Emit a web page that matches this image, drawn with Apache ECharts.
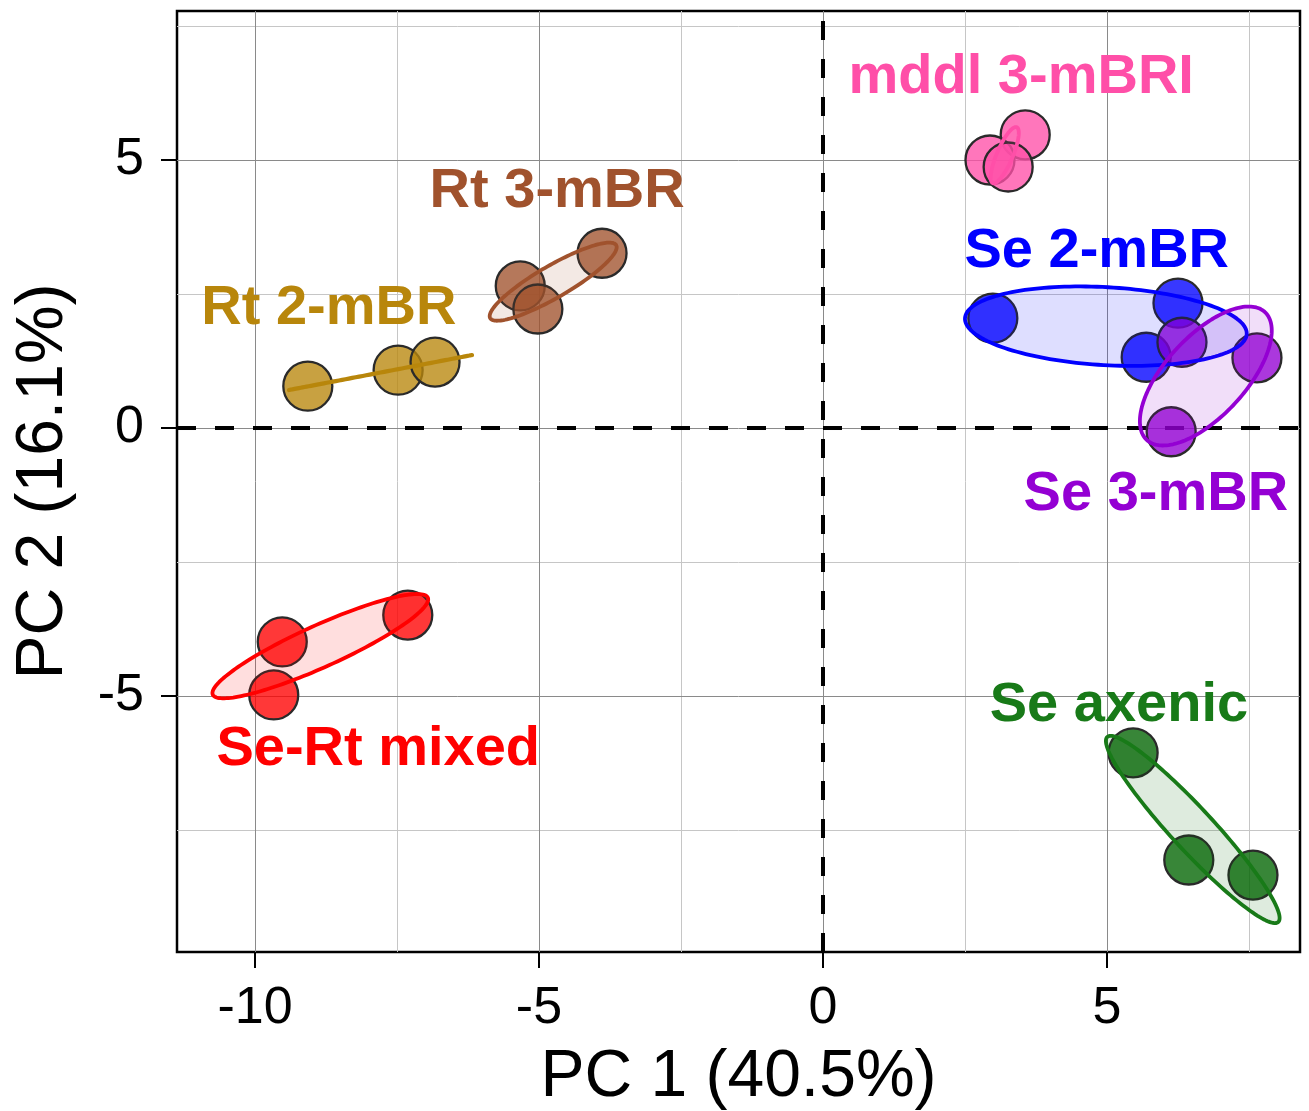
<!DOCTYPE html>
<html><head><meta charset="utf-8">
<script src="https://cdn.jsdelivr.net/npm/echarts@6/dist/echarts.min.js"></script>
<style>html,body{margin:0;padding:0;background:#fff}#c{width:1309px;height:1111px}</style>
</head><body><div id="c"></div>
<script>
// ---- data ----
const groups = ['Rt 2-mBR', 'Rt 3-mBR', 'Se-Rt mixed', 'mddl 3-mBRI', 'Se 2-mBR', 'Se 3-mBR', 'Se axenic'];
const colors = ['#B8860B', '#A0522D', '#FF0000', '#FF4FA8', '#0000FF', '#9400D3', '#187A18'];
const pointRGB = ['184,134,11', '160,82,45', '255,0,0', '255,80,168', '0,0,255', '148,0,211', '0,100,0'];

const ptsRt2 = [[-9.07, 0.78], [-7.48, 1.08], [-6.83, 1.23]];
const ptsRt3 = [[-5.33, 2.65], [-5.02, 2.22], [-3.89, 3.26]];
const ptsMixed = [[-9.52, -3.99], [-9.67, -4.98], [-7.31, -3.49]];
const ptsMddl = [[3.56, 5.47], [2.94, 5.00], [3.26, 4.87]];
const ptsSe2 = [[2.99, 2.05], [6.25, 2.33], [5.69, 1.32]];
const ptsSe3 = [[6.32, 1.60], [7.64, 1.31], [6.13, -0.07]];
const ptsAxenic = [[5.46, -6.06], [6.44, -8.06], [7.57, -8.34]];
const groupPoints = [ptsRt2, ptsRt3, ptsMixed, ptsMddl, ptsSe2, ptsSe3, ptsAxenic];

// ellipses: centre (cx, cy), half-axis vectors u and v, in data units
const ellRt2 = [-7.79, 1.035, 1.611, 0.326, 0.0, 0.0];
const ellRt3 = [-4.75, 2.73, 1.109, 0.681, 0.141, -0.259];
const ellMixed = [-8.85, -4.07, 1.893, 0.905, 0.152, -0.357];
const ellMddl = [3.20, 5.09, 0.211, 0.522, 0.129, -0.059];
const ellSe2 = [4.98, 1.90, 2.48, -0.149, -0.039, -0.726];
const ellSe3 = [6.74, 0.97, 1.039, 1.194, 0.518, -0.505];
const ellAxenic = [6.51, -7.49, 1.505, -1.726, -0.271, -0.266];
const groupEllipses = [ellRt2, ellRt3, ellMixed, ellMddl, ellSe2, ellSe3, ellAxenic];

// label anchor (centre of text) in data units
const labelPos = [[-8.70, 2.22], [-4.68, 4.42], [-7.83, -6.00], [3.49, 6.53], [4.82, 3.30], [5.86, -1.25], [5.21, -5.18]];

const X_MIN = -11.373, X_MAX = 8.398, Y_MIN = -9.776, Y_MAX = 7.78;
const xTicks = [-10, -5, 0, 5];
const yTicks = [-5, 0, 5];
const xMajor = [-10, -5, 0, 5];
const xMinor = [-7.5, -2.5, 2.5, 7.5];
const yMajor = [-5, 0, 5];
const yMinor = [-7.5, -2.5, 2.5, 7.5];
const xTitle = 'PC 1 (40.5%)';
const yTitle = 'PC 2 (16.1%)';

const FONT = '"Liberation Sans", Arial, Helvetica, sans-serif';

function vLines(vals, color, width) {
  return {
    type: 'custom', z: 1, silent: true,
    data: vals.map(v => [v, 0]),
    renderItem: (p, api) => {
      const v = api.value(0);
      const a = api.coord([v, Y_MIN]), b = api.coord([v, Y_MAX]);
      const x = Math.round(a[0]) + 0.5;
      return { type: 'line', shape: { x1: x, y1: a[1], x2: x, y2: b[1] }, style: { stroke: color, lineWidth: width } };
    }
  };
}
function hLines(vals, color, width) {
  return {
    type: 'custom', z: 1, silent: true,
    data: vals.map(v => [0, v]),
    renderItem: (p, api) => {
      const v = api.value(1);
      const a = api.coord([X_MIN, v]), b = api.coord([X_MAX, v]);
      const y = Math.round(a[1]) + 0.5;
      return { type: 'line', shape: { x1: a[0], y1: y, x2: b[0], y2: y }, style: { stroke: color, lineWidth: width } };
    }
  };
}

const series = [
  vLines(xMinor, '#c6c6c6', 1),
  hLines(yMinor, '#c6c6c6', 1),
  vLines(xMajor, '#8a8a8a', 1),
  hLines(yMajor, '#8a8a8a', 1),
  { // dashed zero lines
    type: 'custom', z: 2, silent: true,
    data: [[0, 0]],
    renderItem: (p, api) => {
      const a = api.coord([0, Y_MIN]), b = api.coord([0, Y_MAX]);
      const c = api.coord([X_MIN, 0]), d = api.coord([X_MAX, 0]);
      const ds = { stroke: '#000', lineWidth: 4, lineDash: [19, 19] };
      return { type: 'group', children: [
        { type: 'line', shape: { x1: a[0], y1: a[1], x2: b[0], y2: b[1] }, style: ds },
        { type: 'line', shape: { x1: c[0], y1: c[1], x2: d[0], y2: d[1] }, style: ds }
      ] };
    }
  }
];

groupPoints.forEach((pts, i) => {
  series.push({
    type: 'scatter', name: groups[i], z: 3, silent: true,
    symbol: 'circle', symbolSize: 49,
    data: pts,
    itemStyle: { color: 'rgba(' + pointRGB[i] + ',0.78)', borderColor: '#2a2a2a', borderWidth: 2.3, opacity: 1 }
  });
});

series.push({
  type: 'custom', z: 4, silent: true,
  data: groupEllipses.map((e, i) => e.concat([i])),
  renderItem: (p, api) => {
    const cx = api.value(0), cy = api.value(1), ux = api.value(2), uy = api.value(3), vx = api.value(4), vy = api.value(5), gi = api.value(6);
    const pts = [];
    for (let k = 0; k < 160; k++) {
      const t = k / 160 * 2 * Math.PI;
      pts.push(api.coord([cx + ux * Math.cos(t) + vx * Math.sin(t), cy + uy * Math.cos(t) + vy * Math.sin(t)]));
    }
    return { type: 'polygon', shape: { points: pts },
      style: { fill: 'rgba(' + pointRGB[gi] + ',0.13)', stroke: colors[gi], lineWidth: gi === 0 ? 4.2 : 3.8, lineJoin: 'round' } };
  }
});

series.push({
  type: 'custom', z: 5, silent: true,
  data: labelPos.map((p, i) => [p[0], p[1], i]),
  renderItem: (p, api) => {
    const c = api.coord([api.value(0), api.value(1)]);
    const i = api.value(2);
    return { type: 'text', x: c[0], y: c[1],
      style: { text: groups[i], fill: colors[i], font: 'bold 56px ' + FONT, align: 'center', verticalAlign: 'middle' } };
  }
});

const chart = echarts.init(document.getElementById('c'), null, { renderer: 'canvas' });
chart.setOption({
  animation: false,
  backgroundColor: '#fff',
  grid: { left: 177, right: 9, top: 11, bottom: 159, show: true, borderColor: '#000', borderWidth: 2.5, backgroundColor: 'transparent', outerBoundsMode: 'none' },
  xAxis: {
    type: 'value', min: X_MIN, max: X_MAX,
    axisLine: { show: false, onZero: false },
    splitLine: { show: false },
    axisTick: { show: true, length: 16, customValues: xTicks, lineStyle: { color: '#000', width: 2 } },
    axisLabel: { customValues: xTicks, color: '#000', fontSize: 52, fontFamily: FONT, margin: 31 },
    name: xTitle, nameLocation: 'middle', nameGap: 93,
    nameTextStyle: { fontSize: 66, color: '#000', fontFamily: FONT }
  },
  yAxis: {
    type: 'value', min: Y_MIN, max: Y_MAX,
    axisLine: { show: false, onZero: false },
    splitLine: { show: false },
    axisTick: { show: true, length: 16, customValues: yTicks, lineStyle: { color: '#000', width: 2 } },
    axisLabel: { customValues: yTicks, color: '#000', fontSize: 52, fontFamily: FONT, margin: 33 },
    name: yTitle, nameLocation: 'middle', nameGap: 100,
    nameTextStyle: { fontSize: 66, color: '#000', fontFamily: FONT }
  },
  series: series
});
</script></body></html>
